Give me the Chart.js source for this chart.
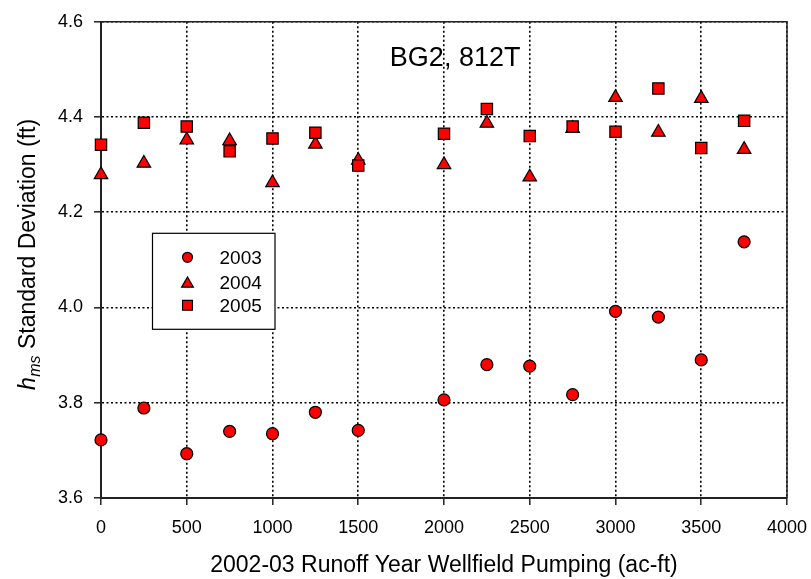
<!DOCTYPE html>
<html>
<head>
<meta charset="utf-8">
<script src="https://cdn.jsdelivr.net/npm/chart.js@4.4.1/dist/chart.umd.min.js"></script>
<style>
  html, body { margin: 0; padding: 0; background: #fff; }
  #wrap { width: 811px; height: 579px; }
</style>
</head>
<body>
<div id="wrap"><canvas id="sdChart"></canvas></div>
<script>
// Wellfield pumping (ac-ft) and standard deviation of h_ms per year
const pumping = [0, 250, 500, 750, 1000, 1250, 1500, 2000, 2250, 2500, 2750, 3000, 3250, 3500, 3750];
const sd2003 = [3.722, 3.789, 3.693, 3.740, 3.735, 3.780, 3.742, 3.806, 3.880, 3.877, 3.817, 3.992, 3.980, 3.890, 4.138];
const sd2004 = [4.279, 4.303, 4.352, 4.350, 4.262, 4.343, 4.309, 4.300, 4.387, 4.274, 4.376, 4.441, 4.368, 4.439, 4.332];
const sd2005 = [4.342, 4.388, 4.380, 4.328, 4.355, 4.367, 4.298, 4.365, 4.417, 4.360, 4.380, 4.369, 4.460, 4.335, 4.392];
const years = ["2003", "2004", "2005"];
const markers = ["circle", "triangle", "rect"];
const markerSize = [6, 7.8, 8];

const FONT = '"Liberation Sans", Arial, sans-serif';

function points(values) {
    return pumping.map((x, i) => ({ x: x, y: values[i] }));
}

function makeSet(i, values) {
    return {
        label: years[i],
        data: points(values),
        pointStyle: markers[i],
        pointRadius: markerSize[i],
        pointBackgroundColor: "#ff0000",
        pointBorderColor: "#000",
        pointBorderWidth: 1.2,
        showLine: false,
        clip: false,
        order: 3 - i
    };
}

// Draw a marker shape the same way the chart does
function drawMarker(ctx, style, x, y, r) {
    ctx.beginPath();
    if (style === "circle") {
        ctx.arc(x, y, r, 0, Math.PI * 2);
    } else if (style === "triangle") {
        let a = 0;
        ctx.moveTo(x + Math.sin(a) * r, y - Math.cos(a) * r);
        a += 2 * Math.PI / 3;
        ctx.lineTo(x + Math.sin(a) * r, y - Math.cos(a) * r);
        a += 2 * Math.PI / 3;
        ctx.lineTo(x + Math.sin(a) * r, y - Math.cos(a) * r);
    } else {
        const s = Math.SQRT1_2 * r;
        ctx.rect(x - s, y - s, 2 * s, 2 * s);
    }
    ctx.closePath();
    ctx.fillStyle = "#ff0000";
    ctx.fill();
    ctx.lineWidth = 1.2;
    ctx.strokeStyle = "#000";
    ctx.stroke();
}

// Frame on top/right plus the inset label, legend and y title
const decorations = {
    id: "decorations",
    beforeDatasetsDraw(chart) {
        const { ctx, chartArea: a } = chart;
        ctx.save();
        ctx.strokeStyle = "#222";
        ctx.lineWidth = 1.5;
        ctx.beginPath();
        ctx.moveTo(a.left, a.top);
        ctx.lineTo(a.right, a.top);
        ctx.lineTo(a.right, a.bottom);
        ctx.stroke();
        ctx.restore();
    },
    afterDraw(chart) {
        const { ctx, chartArea: a, scales } = chart;
        ctx.save();

        // site label
        ctx.fillStyle = "#000";
        ctx.font = "27px " + FONT;
        ctx.textAlign = "center";
        ctx.textBaseline = "alphabetic";
        ctx.fillText("BG2, 812T", scales.x.getPixelForValue(2065), scales.y.getPixelForValue(4.507));

        // legend box
        const lx = a.left + 51.5, ly = a.top + 211.5, lw = 122.5, lh = 96;
        ctx.fillStyle = "#fff";
        ctx.fillRect(lx, ly, lw, lh);
        ctx.strokeStyle = "#000";
        ctx.lineWidth = 1.2;
        ctx.strokeRect(lx, ly, lw, lh);
        const rows = [24, 49, 72];
        ctx.font = "19px " + FONT;
        ctx.textAlign = "left";
        ctx.textBaseline = "middle";
        years.forEach((yr, i) => {
            drawMarker(ctx, markers[i], lx + 35, ly + rows[i] + (i === 1 ? 1.5 : 0), markerSize[i] - 1);
            ctx.fillStyle = "#000";
            ctx.fillText(yr, lx + 67, ly + rows[i] + 1);
        });

        // y axis title: italic h with subscript ms
        ctx.translate(35, 390);
        ctx.rotate(-Math.PI / 2);
        ctx.textBaseline = "alphabetic";
        ctx.fillStyle = "#000";
        ctx.font = "italic 23px " + FONT;
        ctx.fillText("h", 0, 0);
        let off = ctx.measureText("h").width + 0.5;
        ctx.font = "italic 16px " + FONT;
        ctx.fillText("ms", off, 5);
        off += ctx.measureText("ms").width;
        ctx.font = "23px " + FONT;
        ctx.fillText(" Standard Deviation (ft)", off, 0);
        ctx.restore();
    }
};

const gridStyle = {
    color: "#000",
    lineWidth: 1.6,
    tickLength: 7,
    tickColor: "#222",
    tickWidth: 1.5,
    tickBorderDash: []
};

new Chart(document.getElementById("sdChart"), {
    type: "scatter",
    data: {
        datasets: [makeSet(0, sd2003), makeSet(1, sd2004), makeSet(2, sd2005)]
    },
    options: {
        responsive: true,
        maintainAspectRatio: false,
        animation: false,
        events: [],
        layout: { padding: { top: 18, right: 24, bottom: 0, left: 0 } },
        plugins: {
            legend: { display: false },
            tooltip: { enabled: false }
        },
        scales: {
            x: {
                type: "linear",
                min: 0,
                max: 4000,
                afterFit(scale) {
                    scale.height = 81;
                    scale.paddingLeft = 0;
                    scale.paddingRight = 0;
                },
                ticks: {
                    stepSize: 500,
                    color: "#000",
                    padding: 12,
                    maxRotation: 0,
                    font: { family: FONT, size: 18 },
                    callback: v => String(v)
                },
                grid: gridStyle,
                border: { color: "#222", width: 2, dash: [2, 2.5] },
                title: {
                    display: true,
                    text: "2002-03 Runoff Year Wellfield Pumping (ac-ft)",
                    color: "#000",
                    padding: { top: 0, bottom: 0 },
                    font: { family: FONT, size: 23 }
                }
            },
            y: {
                min: 3.6,
                max: 4.6,
                afterFit(scale) { scale.width = 101; },
                ticks: {
                    stepSize: 0.2,
                    color: "#000",
                    padding: 11,
                    font: { family: FONT, size: 18 },
                    callback: v => v.toFixed(1)
                },
                grid: gridStyle,
                border: { color: "#222", width: 2, dash: [2, 2.5] }
            }
        }
    },
    plugins: [decorations]
});
</script>
</body>
</html>
